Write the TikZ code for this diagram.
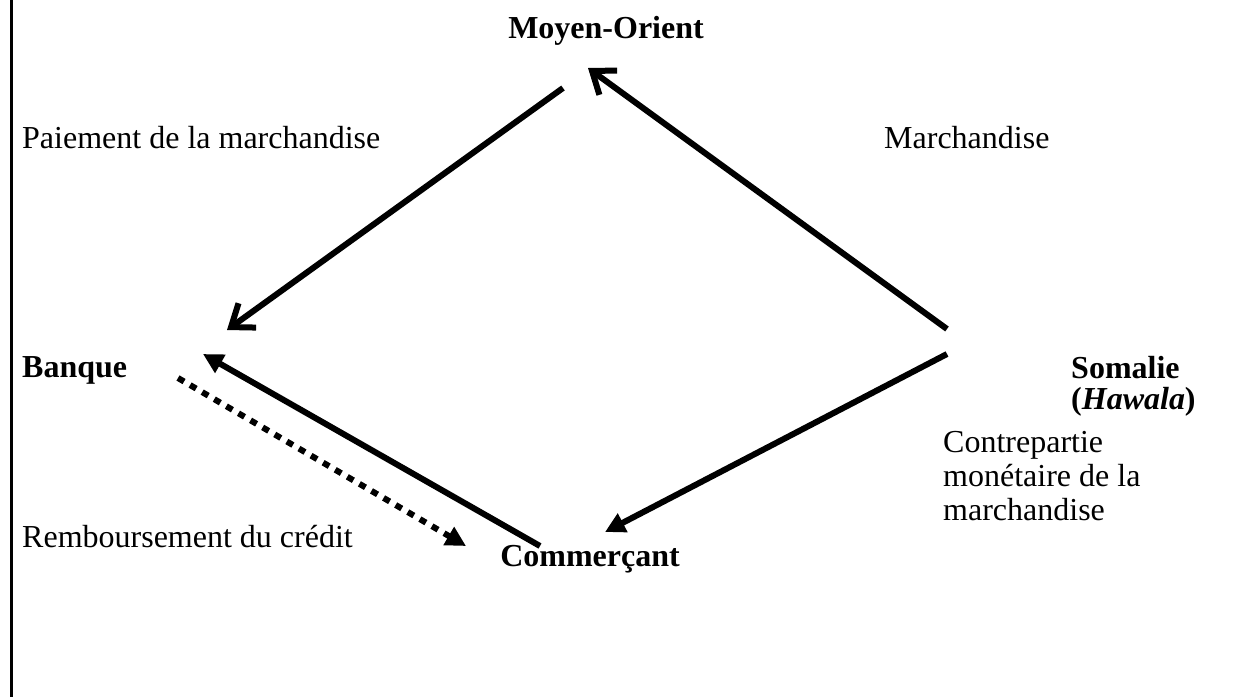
\documentclass[tikz,border=0pt]{standalone}
\usepackage{fontspec}
\setmainfont{Liberation Serif}
\usetikzlibrary{arrows.meta}

\begin{document}
\begin{tikzpicture}[
     x = 1pt, y = -1pt,
     every node/.style = {inner sep = 0pt, font = \fontsize{32}{34}\selectfont},
     place/.style = {font = \fontsize{32}{31}\selectfont\bfseries},
     flow/.style = {line width = 6pt, -{Triangle[length = 20pt, width = 20pt]}},
     openflow/.style = {line width = 6pt, -{Straight Barb[length = 20pt, width = 30pt]}},
     credit/.style = {flow, dash pattern = on 7pt off 7pt}
    ]
   
    \useasboundingbox (0,0) rectangle (1247,697);
    \draw [line width = 3pt] (11,0) -- (11,697);

    \node [place, anchor = base] (Orient) at (606,38) {Moyen-Orient};
    \node [place, anchor = base west] (Banque) at (22,377) {Banque};
    \node [place, anchor = north west, align = left] (Somalie) at (1071,356) {Somalie\\(\textit{Hawala})};
    \node [place, anchor = base] (Commercant) at (590,566) {Commerçant};

    \node [anchor = base west] (Paiement) at (22,148) {Paiement de la marchandise};
    \node [anchor = base west] (Marchandise) at (884,148) {Marchandise};
    \node [anchor = north west, align = left] (Contrepartie) at (943,431) {Contrepartie\\monétaire de la\\marchandise};
    \node [anchor = base west] (Remboursement) at (22,547) {Remboursement du crédit};

    % ends of the arrows, next to the places
    \coordinate (Somalie-up) at (947,329);
    \coordinate (Somalie-down) at (947,354);
    \coordinate (Orient-in) at (588,68);
    \coordinate (Orient-out) at (563,88);
    \coordinate (Banque-in) at (227,330);
    \coordinate (Banque-back) at (203,354);
    \coordinate (Banque-out) at (178,378);
    \coordinate (Commercant-in) at (605,532);
    \coordinate (Commercant-out) at (540,546);
    \coordinate (Commercant-back) at (466,546);

    \draw [openflow] (Somalie-up) -- (Orient-in);
    \draw [openflow] (Orient-out) -- (Banque-in);
    \draw [flow] (Somalie-down) -- (Commercant-in);
    \draw [flow] (Commercant-out) -- (Banque-back);
    \draw [credit] (Banque-out) -- (Commercant-back);
   
\end{tikzpicture}
\end{document}
